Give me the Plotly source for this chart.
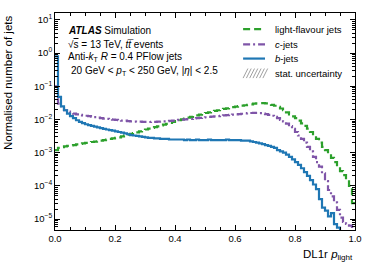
import numpy as np
import plotly.graph_objects as go

# ---- data ----
bin_edges = np.round(np.linspace(0.0, 1.0, 101), 3)

light_jets = [
    0.0012, 0.0014, 0.00148, 0.00155, 0.0016, 0.00166, 0.0017, 0.00178, 0.00185, 0.0019,
    0.00198, 0.00205, 0.0021, 0.00215, 0.0022, 0.0023, 0.0024, 0.0025, 0.0026, 0.0027,
    0.0028, 0.0029, 0.0031, 0.0033, 0.0035, 0.0037, 0.0039, 0.0041, 0.0044, 0.0047,
    0.005, 0.0053, 0.0056, 0.0059, 0.0062, 0.0066, 0.007, 0.0074, 0.0079, 0.0084,
    0.009, 0.0095, 0.0101, 0.0107, 0.0114, 0.012, 0.0127, 0.0134, 0.0141, 0.0149,
    0.0157, 0.0165, 0.0173, 0.0181, 0.019, 0.0199, 0.0208, 0.0217, 0.0226, 0.0235,
    0.0244, 0.0253, 0.0261, 0.0269, 0.0277, 0.0284, 0.0300, 0.0306, 0.031, 0.031,
    0.0305, 0.0293, 0.0278, 0.026, 0.024, 0.0215, 0.019, 0.0165, 0.0143, 0.0125,
    0.011, 0.0092, 0.0077, 0.0064, 0.0053, 0.0042, 0.0033, 0.0026, 0.002, 0.0015,
    0.0012, 0.00092, 0.0007, 0.00052, 0.00038, 0.00028, 0.00021, 0.00015, 0.0001, 0.00003,
]

c_jets = [
    0.1, 0.03, 0.022, 0.019, 0.0172, 0.016, 0.015, 0.0143, 0.0138, 0.0134,
    0.013, 0.0126, 0.0122, 0.0118, 0.0114, 0.011, 0.0107, 0.0104, 0.0101, 0.0099,
    0.0097, 0.0095, 0.0093, 0.0092, 0.009, 0.0088, 0.0087, 0.0086, 0.0086, 0.0085,
    0.0085, 0.0084, 0.0085, 0.0085, 0.0086, 0.0087, 0.0088, 0.009, 0.0091, 0.0093,
    0.0095, 0.0097, 0.0099, 0.0101, 0.0103, 0.0105, 0.0108, 0.011, 0.0112, 0.0115,
    0.0117, 0.012, 0.0122, 0.0125, 0.0127, 0.013, 0.0133, 0.0135, 0.0138, 0.014,
    0.0143, 0.0146, 0.0149, 0.0152, 0.0155, 0.0157, 0.0158, 0.0157, 0.0155, 0.015,
    0.0145, 0.0138, 0.013, 0.012, 0.011, 0.0098, 0.0087, 0.0075, 0.0063, 0.0052,
    0.0042, 0.0033, 0.0026, 0.002, 0.0015, 0.0011, 0.00075, 0.00052, 0.00038, 0.00024,
    0.00014, 0.000075, 0.000048, 0.000032, 0.000019, 0.000011, 0.0000082, 0.0000072, 0.0000063, 0.0000058,
]

b_jets = [
    0.8, 0.048, 0.025, 0.019, 0.015, 0.0126, 0.011, 0.0095, 0.0085, 0.0078,
    0.0072, 0.0068, 0.0064, 0.0061, 0.0058, 0.0055, 0.0052, 0.005, 0.0048, 0.0046,
    0.0044, 0.0042, 0.004, 0.0038, 0.0036, 0.0034, 0.0033, 0.0032, 0.0031, 0.003,
    0.0029, 0.0028, 0.0028, 0.0027, 0.0027, 0.0026, 0.0026, 0.0026, 0.0025, 0.0025,
    0.0025, 0.0025, 0.0025, 0.0024, 0.0025, 0.0024, 0.0024, 0.0025, 0.0024, 0.0024,
    0.0024, 0.0025, 0.0024, 0.0024, 0.0024, 0.0024, 0.0024, 0.0025, 0.0024, 0.0024,
    0.0024, 0.0024, 0.0023, 0.0023, 0.0023, 0.0022, 0.0021, 0.002, 0.0019, 0.0018,
    0.0017, 0.0016, 0.0015, 0.0014, 0.0012, 0.0011, 0.001, 0.00088, 0.00075, 0.00063,
    0.00052, 0.00043, 0.00034, 0.00026, 0.0002, 0.00015, 0.00011, 0.00008, 0.00004, 0.000022,
    0.000018, 0.000012, 0.000015, 0.000007, 0.0000055, 0.000004, None, None, None, None,
]

y_tick_vals = [1e-5, 1e-4, 1e-3, 1e-2, 1e-1, 1e0, 1e1]
y_tick_text = ["10<sup>−5</sup>", "10<sup>−4</sup>", "10<sup>−3</sup>", "10<sup>−2</sup>",
               "10<sup>−1</sup>", "10<sup>0</sup>", "10<sup>1</sup>"]
x_tick_vals = [0.0, 0.2, 0.4, 0.6, 0.8, 1.0]
x_tick_text = ["0.0", "0.2", "0.4", "0.6", "0.8", "1.0"]

series_names = ["light-flavour jets", "<i>c</i>-jets", "<i>b</i>-jets"]
series_values = [light_jets, c_jets, b_jets]
series_colors = ["#2ca02c", "#7f55a8", "#1f77b4"]
series_dashes = ["7px,4px", "7px,3px,2px,3px", "solid"]
uncertainty_label = "stat. uncertainty"

FONT = "Liberation Sans, Arial, Helvetica, sans-serif"

fig = go.Figure()
xs = list(bin_edges)
for name, vals, color, dash in zip(series_names, series_values, series_colors, series_dashes):
    ys = list(vals) + [vals[-1]]
    fig.add_trace(go.Scatter(
        x=xs, y=ys, mode="lines", name=name,
        line=dict(color=color, width=2.2, dash=dash, shape="hv"),
        connectgaps=False, showlegend=False,
    ))

fig.update_layout(
    width=374, height=280,
    margin=dict(l=55, r=19, t=13, b=50),
    paper_bgcolor="white", plot_bgcolor="white",
    font=dict(family=FONT, size=10, color="black"),
    showlegend=False,
    xaxis=dict(
        range=[0, 1], showgrid=False, zeroline=False,
        showline=True, linecolor="black", linewidth=1, mirror="ticks",
        ticks="inside", ticklen=5, tickcolor="black",
        tickvals=x_tick_vals, ticktext=x_tick_text, tickfont=dict(size=9.5),
        minor=dict(dtick=0.05, tick0=0, ticks="inside", ticklen=3, tickcolor="black", showgrid=False),
    ),
    yaxis=dict(
        type="log", range=[-5.33, 1.21], showgrid=False, zeroline=False,
        showline=True, linecolor="black", linewidth=1, mirror="ticks",
        ticks="inside", ticklen=5, tickcolor="black",
        tickvals=y_tick_vals, ticktext=y_tick_text, tickfont=dict(size=9.5),
        minor=dict(dtick="D1", ticks="inside", ticklen=3, tickcolor="black", showgrid=False),
    ),
)

# ---- manual legend (compact, as in the reference) ----
leg_x0, leg_x1, leg_tx = 0.627, 0.70, 0.727
leg_rows = [0.926, 0.855, 0.79, 0.722]
for name, color, dash, yy in zip(series_names, series_colors, series_dashes, leg_rows):
    fig.add_shape(type="line", xref="paper", yref="paper",
                  x0=leg_x0, x1=leg_x1, y0=yy, y1=yy,
                  line=dict(color=color, width=2.2, dash=dash))
    fig.add_annotation(text=name, xref="paper", yref="paper", x=leg_tx, y=yy,
                       xanchor="left", yanchor="middle", showarrow=False,
                       font=dict(size=9.5))
# hatch sample for the uncertainty entry
hy = leg_rows[3]
hh = 0.022
for k in range(7):
    xa = leg_x0 + k * 0.011
    fig.add_shape(type="line", xref="paper", yref="paper",
                  x0=xa, x1=xa + 0.016, y0=hy - hh, y1=hy + hh,
                  line=dict(color="#888888", width=0.8))
fig.add_annotation(text=uncertainty_label, xref="paper", yref="paper", x=leg_tx, y=hy,
                   xanchor="left", yanchor="middle", showarrow=False, font=dict(size=9.5))

# axis titles (ATLAS style: at the ends of the axes)
fig.add_annotation(
    text="DL1r <i>p</i><sub>light</sub>", xref="paper", yref="paper",
    x=1.0, y=-0.115, xanchor="right", yanchor="middle", showarrow=False,
    font=dict(size=11.5),
)
fig.add_annotation(
    text="Normalised number of jets", xref="paper", yref="paper",
    x=-0.157, y=0.677, xanchor="center", yanchor="middle", showarrow=False,
    textangle=-90, font=dict(size=11.5),
)

# labels
labels = [
    ("<b><i>ATLAS</i></b> Simulation", 0.038, 0.92),
    ("√<span style='text-decoration:overline'>s</span> = 13 TeV, <i>t</i><i>t\u0305</i> events", 0.038, 0.855),
    ("Anti-<i>k</i><sub>T</sub> <i>R</i> = 0.4 PFlow jets", 0.038, 0.795),
    ("20 GeV &lt; <i>p</i><sub>T</sub> &lt; 250 GeV, |<i>η</i>| &lt; 2.5", 0.045, 0.733),
]
for txt, x, y in labels:
    fig.add_annotation(text=txt, xref="paper", yref="paper", x=x, y=y,
                       xanchor="left", yanchor="middle", showarrow=False,
                       font=dict(size=10))

fig.write_html("out.html", config={"displayModeBar": False},
               post_script="document.body.style.margin='0';")
